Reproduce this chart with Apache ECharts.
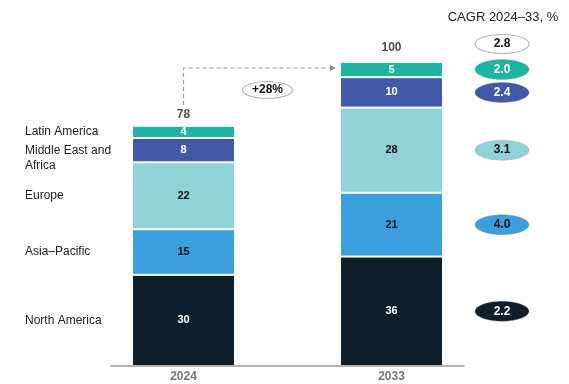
<!DOCTYPE html>
<html>
<head>
<meta charset="utf-8">
<script src="https://cdn.jsdelivr.net/npm/echarts@6/dist/echarts.min.js"></script>
<style>
  html, body { margin: 0; padding: 0; background: #fff; }
  #chart { width: 569px; height: 384px; }
</style>
</head>
<body>
<div id="chart"></div>
<script>
// Market size by region, indexed (2033 total = 100)
const years = ['2024', '2033'];
const regions = ['North America', 'Asia\u2013Pacific', 'Europe', 'Middle East and\nAfrica', 'Latin America'];
const northAmerica = [30, 36];
const asiaPacific = [15, 21];
const europe = [22, 28];
const middleEastAfrica = [8, 10];
const latinAmerica = [4, 5];
const totals = [78, 100];
// Compound annual growth 2024-33, %, per region (same order as regions) and overall
const regionCagr = [2.2, 4.0, 3.1, 2.4, 2.0];
const totalCagr = 2.8;

const seriesValues = [northAmerica, asiaPacific, europe, middleEastAfrica, latinAmerica];
const fills = ['#0f1e2b', '#3b9fdd', '#8fd3d6', '#4259a8', '#1fb3a1'];
const inkOn = ['#ffffff', '#111111', '#111111', '#ffffff', '#ffffff'];
const FONT = '"Liberation Sans", Arial, sans-serif';

const chart = echarts.init(document.getElementById('chart'), null, { renderer: 'canvas' });

const barSeries = seriesValues.map((vals, i) => ({
  name: regions[i],
  type: 'bar',
  stack: 'market',
  barWidth: 103,
  data: vals,
  itemStyle: { color: fills[i], borderColor: '#ffffff', borderWidth: 1 },
  label: {
    show: true, position: 'inside', color: inkOn[i],
    fontFamily: FONT, fontSize: 11, fontWeight: 'bold'
  },
  emphasis: { disabled: true }
}));

chart.setOption({
  animation: false,
  backgroundColor: '#ffffff',
  grid: { left: 79.5, right: 73.5, top: 31.6, bottom: 18 },
  xAxis: {
    type: 'category',
    data: years,
    axisLine: { show: false },
    axisTick: { show: false },
    axisLabel: { color: '#777777', fontFamily: FONT, fontSize: 12, fontWeight: 'bold', margin: 5 }
  },
  yAxis: {
    type: 'value', min: 0, max: 110,
    show: false, splitLine: { show: false }
  },
  series: barSeries.concat([{
    type: 'scatter',
    data: totals,
    symbolSize: 1,
    itemStyle: { color: 'rgba(0,0,0,0)' },
    label: {
      show: true, position: 'top', distance: 8, color: '#222222',
      fontFamily: FONT, fontSize: 12, fontWeight: 'bold'
    },
    emphasis: { disabled: true },
    z: 5
  }])
});

// Annotations placed from the chart's own scales
const px = (xi, v) => chart.convertToPixel({ xAxisIndex: 0, yAxisIndex: 0 }, [xi, v]);
const [x0, yBase] = px(0, 0);
const x1 = px(1, 0)[0];
const halfBar = 103 / 2;
const graphics = [];

// baseline
graphics.push({
  type: 'line', shape: { x1: x0 - 73, y1: yBase, x2: x1 + 73, y2: yBase },
  style: { stroke: '#9a9a9a', lineWidth: 1.5 }, z: 10
});

// region names beside the 2024 column, and CAGR pills beside the 2033 column
let cum0 = 0, cum1 = 0;
seriesValues.forEach((vals, i) => {
  const mid0 = px(0, cum0 + vals[0] / 2)[1];
  const mid1 = px(1, cum1 + vals[1] / 2)[1];
  cum0 += vals[0]; cum1 += vals[1];
  const multi = regions[i].indexOf('\n') >= 0;
  graphics.push({
    type: 'text', x: 25, y: multi ? mid0 - 7 : mid0,
    style: {
      text: regions[i], fill: '#222222', font: '12px ' + FONT,
      lineHeight: 15, textAlign: 'left', textVerticalAlign: multi ? 'top' : 'middle'
    }
  });
  graphics.push({
    type: 'ellipse', shape: { cx: 502, cy: mid1, rx: 27, ry: 10 },
    style: { fill: fills[i], stroke: 'rgba(150,150,150,0.35)', lineWidth: 1 }
  });
  graphics.push({
    type: 'text', x: 502, y: mid1,
    style: {
      text: regionCagr[i].toFixed(1), fill: inkOn[i], font: 'bold 12px ' + FONT,
      textAlign: 'center', textVerticalAlign: 'middle'
    }
  });
});

// overall CAGR pill and heading
const yTop1 = px(1, totals[1])[1];
graphics.push({
  type: 'ellipse', shape: { cx: 502, cy: yTop1 - 18, rx: 27, ry: 9.5 },
  style: { fill: '#ffffff', stroke: '#b5b5b5', lineWidth: 1.2 }
});
graphics.push({
  type: 'text', x: 502, y: yTop1 - 18,
  style: { text: totalCagr.toFixed(1), fill: '#111111', font: 'bold 12px ' + FONT, textAlign: 'center', textVerticalAlign: 'middle' }
});
graphics.push({
  type: 'text', x: 503, y: 17,
  style: { text: 'CAGR 2024\u201333, %', fill: '#222222', font: '13px ' + FONT, textAlign: 'center', textVerticalAlign: 'middle' }
});

// growth arrow between the totals
const yTop0 = px(0, totals[0])[1];
const arrowY = yTop1 + 6;
const arrowEnd = x1 - halfBar - 4;
graphics.push({
  type: 'polyline',
  shape: { points: [[x0, yTop0 - 24], [x0, arrowY], [arrowEnd - 4, arrowY]] },
  style: { stroke: '#9a9a9a', lineWidth: 1.2, lineDash: [4, 3], fill: null }
});
graphics.push({
  type: 'polygon',
  shape: { points: [[arrowEnd, arrowY], [arrowEnd - 6, arrowY - 3], [arrowEnd - 6, arrowY + 3]] },
  style: { fill: '#8a8a8a' }
});
const growth = Math.round((totals[1] / totals[0] - 1) * 100);
graphics.push({
  type: 'ellipse', shape: { cx: x0 + 84, cy: arrowY + 22, rx: 25, ry: 8.5 },
  style: { fill: '#ffffff', stroke: '#b5b5b5', lineWidth: 1.2 }
});
graphics.push({
  type: 'text', x: x0 + 84, y: arrowY + 22,
  style: { text: '+' + growth + '%', fill: '#111111', font: 'bold 12px ' + FONT, textAlign: 'center', textVerticalAlign: 'middle' }
});

chart.setOption({ graphic: graphics });
</script>
</body>
</html>
